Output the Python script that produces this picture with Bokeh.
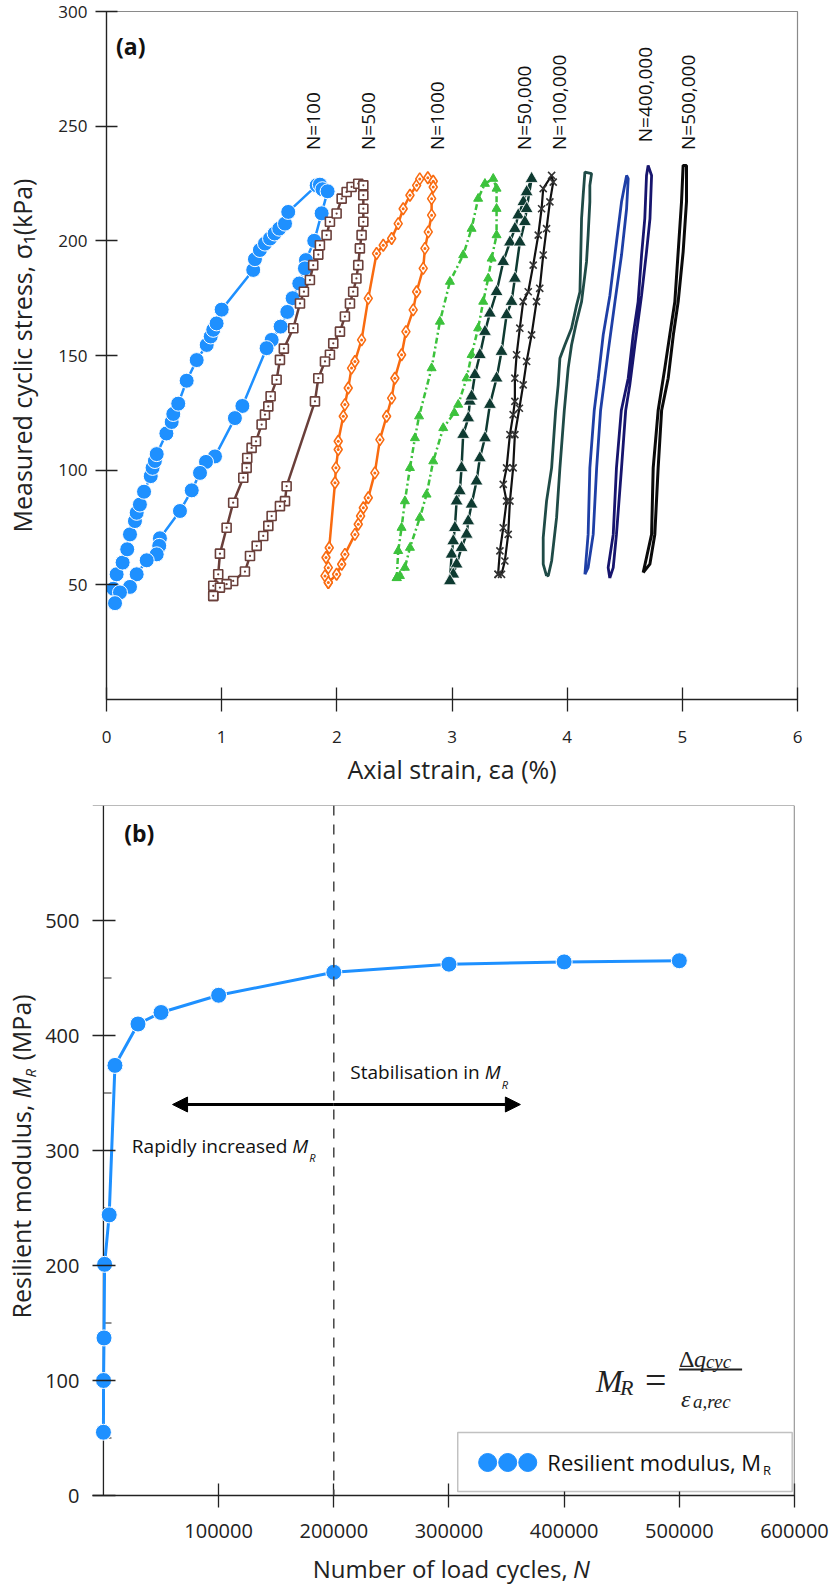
import math
from bokeh.plotting import figure
from bokeh.layouts import column, row
from bokeh.models import (FixedTicker, NumeralTickFormatter, Span, Arrow, NormalHead,
                          Label, BoxAnnotation)
from bokeh.core.properties import value
from bokeh.embed import file_html
from bokeh.resources import INLINE

# ---------------- panel (a): hysteresis loops (axial strain %, stress kPa) ----------------
N100_x = [0.074, 0.06, 0.088, 0.14, 0.18, 0.204, 0.247, 0.262, 0.29, 0.326, 0.384, 0.4, 0.42, 0.436,
          0.52, 0.566, 0.58, 0.623, 0.696, 0.783, 0.87, 0.905, 0.927, 0.956, 1.0, 1.274, 1.289, 1.332,
          1.376, 1.42, 1.46, 1.5, 1.55, 1.578, 1.825, 1.853, 1.875, 1.92,
          1.868, 1.804, 1.732, 1.723, 1.674, 1.616, 1.57, 1.512, 1.434, 1.39, 1.18, 1.115, 0.942,
          0.864, 0.812, 0.74, 0.638, 0.464, 0.458, 0.436, 0.349, 0.262, 0.204, 0.117, 0.074]
N100_y = [42, 48.3, 54.6, 59.7, 65.5, 72, 77.8, 81.4, 85, 90.6, 97.4, 101, 104, 107,
          116, 121, 124.5, 129, 139, 148, 154.6, 158.3, 161.2, 164, 170, 187.3, 192, 196,
          198.8, 201, 203.2, 205.3, 207.5, 212.6, 224.2, 224.5, 222.5, 221.6,
          212, 200, 191.6, 188, 181.4, 175, 169, 162.6, 156.8, 153.2, 128, 122.7, 106,
          103.6, 98.8, 91.2, 82.2, 70.3, 67, 63.3, 60.7, 54.6, 49.1, 46.7, 42]

N500_x = [0.927, 0.927, 0.97, 0.985, 1.043, 1.1, 1.188, 1.217, 1.222, 1.26, 1.298, 1.347, 1.376, 1.405,
          1.425, 1.477, 1.506, 1.54, 1.622, 1.68, 1.714, 1.766, 1.795, 1.839, 1.853, 1.911, 1.94, 1.998,
          2.042, 2.085, 2.128, 2.186, 2.23,
          2.23, 2.23, 2.23, 2.215, 2.2, 2.186, 2.17, 2.142, 2.114, 2.07, 2.027, 1.969, 1.94, 1.897, 1.839,
          1.81, 1.564, 1.55, 1.506, 1.434, 1.405, 1.361, 1.304, 1.246, 1.202, 1.1, 1.043, 0.985, 0.927]
N500_y = [45.2, 49.6, 54.6, 63.6, 74.9, 85.8, 96.7, 101, 105.3, 109.7, 112.6, 119.9, 124.2, 127.8,
          132.2, 139.4, 148.1, 153, 161.9, 172.7, 177.8, 182.9, 189.4, 194, 198.1, 202.5, 208.3, 211.9,
          218.4, 221.3, 223.5, 224.9, 224.2,
          219.9, 214, 208.3, 202.5, 196.7, 189.4, 183.6, 177.8, 172.7, 167, 160.4, 155.3, 150.3, 147.4, 140.1,
          130, 93, 86.5, 84.3, 80, 75.7, 71.3, 67, 62.6, 55.8, 51.7, 50.3, 48.8, 45.2]

N1000_x = [1.926, 1.897, 1.926, 1.906, 1.934, 1.984, 1.992, 2.012, 2.012, 2.056, 2.07, 2.099, 2.128, 2.157,
           2.215, 2.273, 2.345, 2.403, 2.476, 2.533, 2.576, 2.635, 2.693, 2.72, 2.79, 2.837,
           2.837, 2.823, 2.823, 2.794, 2.765, 2.75, 2.693, 2.663, 2.6, 2.562, 2.504, 2.476, 2.432, 2.374,
           2.33, 2.273, 2.23, 2.206, 2.186, 2.157, 2.07, 2.042, 1.998, 1.926]
N1000_y = [51, 53.9, 57.5, 61.9, 66.2, 94.5, 101, 109, 112.6, 123.5, 128.6, 135.8, 144.5, 147.4,
           156.8, 174.9, 194.5, 198.1, 201, 207.5, 214, 219.9, 224.2, 227, 227.5, 226,
           223.5, 218.4, 211.2, 203.9, 196.7, 188, 177.8, 169.9, 160.4, 150.3, 140.1, 131.4, 123.5, 113.3,
           98.8, 88, 83.6, 80, 76.4, 72, 63.3, 59, 54.6, 51]

N5000_x = [2.52, 2.533, 2.562, 2.591, 2.635, 2.678, 2.714, 2.823, 2.895, 2.982, 3.097, 3.17, 3.227,
           3.286, 3.358, 3.387, 3.387, 3.387, 3.344, 3.314, 3.271, 3.227, 3.17, 3.127, 3.054, 3.02,
           2.924, 2.837, 2.779, 2.721, 2.635, 2.591, 2.548, 2.52]
N5000_y = [53, 64.8, 74.9, 86.5, 101, 114, 123.5, 144.5, 164.8, 182.2, 193.8, 205.3, 218.4,
           224.9, 227.1, 222.8, 214, 202.5, 192.3, 183.6, 173.5, 161.9, 150.3, 140.1, 128.6, 125,
           118.4, 103.9, 89.4, 79.3, 66.2, 57.5, 53.9, 53]

N50000_x = [2.982, 2.997, 3.011, 3.025, 3.04, 3.068, 3.083, 3.097, 3.141, 3.155, 3.17, 3.199, 3.242,
            3.286, 3.329, 3.387, 3.445, 3.503, 3.546, 3.575, 3.62, 3.648, 3.691,
            3.648, 3.633, 3.589, 3.546, 3.517, 3.474, 3.43, 3.387, 3.329, 3.286, 3.242, 3.213, 3.17,
            3.141, 3.127, 3.083, 3.04, 3.011, 2.982]
N50000_y = [51.7, 63.3, 69.1, 74.9, 86.5, 90.9, 101, 115.5, 122.7, 130, 132.2, 141.6, 150.3,
            160.4, 168.4, 177.8, 190.9, 199.4, 205.3, 211.2, 217, 221.3, 227.1,
            214, 208.3, 199.4, 183.6, 173.5, 167.7, 151.7, 140.1, 128.6, 114, 105.3, 95.2, 85.1,
            77.8, 72, 66.2, 59, 54.6, 51.7]

N100000_x = [3.4, 3.416, 3.445, 3.474, 3.445, 3.474, 3.503, 3.531, 3.546, 3.546, 3.561, 3.589, 3.618,
             3.662, 3.705, 3.749, 3.778, 3.792, 3.865,
             3.879, 3.85, 3.821, 3.792, 3.762, 3.734, 3.691, 3.648, 3.618, 3.585, 3.546, 3.531, 3.503,
             3.488, 3.459, 3.43, 3.4]
N100000_y = [54.6, 64.8, 74.9, 86.5, 93.8, 101, 115.5, 124.2, 130, 140.1, 150.3, 161.9, 173.5,
             177.8, 189.4, 202.5, 214, 222.8, 228.5,
             225.6, 217, 205.3, 193.8, 179.3, 173.5, 159, 147.4, 137.2, 127, 115.5, 101, 86.5,
             72, 60.4, 54.6, 54.6]

N200000_x = [3.821, 3.792, 3.792, 3.821, 3.865, 3.9, 3.922, 3.937, 3.98, 4.038, 4.082, 4.111, 4.125,
             4.139, 4.154, 4.212, 4.197,
             4.197, 4.182, 4.168, 4.125, 4.082, 4.038, 4.009, 3.975, 3.937, 3.908, 3.865, 3.836, 3.821]
N200000_y = [53.9, 59, 70.6, 86.5, 101, 126, 137.2, 148.8, 154.6, 161.9, 172, 177.8, 209.7,
             219.9, 230, 229.3, 224.2,
             217, 202.5, 190.9, 173.5, 164.8, 154.6, 144.5, 126, 101, 79.3, 60.4, 54, 53.9]

N300000_x = [4.154, 4.182, 4.197, 4.235, 4.27, 4.313, 4.371, 4.428, 4.472, 4.516, 4.53,
             4.516, 4.472, 4.415, 4.356, 4.29, 4.256, 4.226, 4.182, 4.154]
N300000_y = [54.6, 72, 101, 126, 140.1, 159, 176.2, 199.4, 217, 228.5, 227.1,
             214, 193.8, 173.5, 151.7, 126, 101, 72, 57.5, 54.6]

N400000_x = [4.37, 4.356, 4.4, 4.428, 4.47, 4.53, 4.573, 4.616, 4.646, 4.674, 4.689, 4.703, 4.733,
             4.719, 4.689, 4.646, 4.588, 4.544, 4.508, 4.472, 4.428, 4.4, 4.37]
N400000_y = [53, 57.5, 72, 101, 126, 140.1, 159, 173.5, 193.8, 209.7, 228.5, 232.9, 228.5,
             209.7, 195.2, 176.2, 154.6, 137.2, 126, 101, 72, 57.5, 53]

N500000_x = [4.66, 4.689, 4.733, 4.747, 4.79, 4.848, 4.891, 4.935, 4.964, 4.993, 5.007, 5.036,
             5.036, 5.007, 4.964, 4.922, 4.877, 4.82, 4.79, 4.761, 4.718, 4.66]
N500000_y = [55.3, 61.9, 72, 101, 126, 144.5, 159, 173.5, 195.2, 217, 232.9, 232.9,
             217, 195.2, 173.5, 159, 140.1, 126, 101, 72, 59, 55.3]

loop_labels = ["N=100", "N=500", "N=1000", "N=50,000", "N=100,000", "N=400,000", "N=500,000"]
loop_label_x = [1.795, 2.273, 2.872, 3.624, 3.931, 4.675, 5.05]
loop_label_y = [239.6, 239.6, 239.6, 239.6, 239.6, 243.0, 239.6]

strain_ticks = [0, 1, 2, 3, 4, 5, 6]
stress_ticks = [50, 100, 150, 200, 250, 300]

# ---------------- panel (b): resilient modulus vs number of cycles ----------------
N_cycles = [1, 100, 500, 1000, 5000, 10000, 30000, 50000, 100000, 200000, 300000, 400000, 500000]
MR_MPa = [55, 100, 137, 201, 244, 374, 410, 420, 435, 455, 462, 464, 465]

cycle_ticks = [100000, 200000, 300000, 400000, 500000, 600000]
mr_ticks = [0, 100, 200, 300, 400, 500]
mr_minor_ticks = [50, 150, 250, 350, 450]

FONT = "Open Sans"
INK = "#222222"


def style_axis(ax, size, t_in, t_out, standoff):
    ax.axis_line_color = INK
    ax.axis_line_width = 1.3
    ax.major_tick_line_color = INK
    ax.major_tick_line_width = 1.3
    ax.major_tick_in = t_in
    ax.major_tick_out = t_out
    ax.minor_tick_line_color = None
    ax.major_label_text_font = FONT
    ax.major_label_text_font_size = size
    ax.major_label_text_color = INK
    ax.major_label_standoff = standoff
    ax.axis_label_text_font = FONT
    ax.axis_label_text_font_size = "25px"
    ax.axis_label_text_font_style = "normal"
    ax.axis_label_text_color = INK


def blank_fig(w, h, xr, yr):
    f = figure(width=w, height=h, x_range=xr, y_range=yr, x_axis_type=None, y_axis_type=None,
               min_border=0, output_backend="svg", toolbar_location=None)
    f.outline_line_color = None
    f.background_fill_color = "white"
    f.border_fill_color = "white"
    f.xgrid.visible = False
    f.ygrid.visible = False
    return f


# ================= TOP FIGURE =================
p1 = figure(x_range=(0, 6), y_range=(0, 300), frame_width=691, frame_height=688,
            min_border_left=106, min_border_right=35, min_border_top=11, min_border_bottom=91,
            output_backend="svg", toolbar_location=None)
p1.background_fill_color = "white"
p1.border_fill_color = "white"
p1.outline_line_color = "#8a8a8a"
p1.outline_line_width = 1.2
p1.xgrid.visible = False
p1.ygrid.visible = False
p1.xaxis.ticker = FixedTicker(ticks=strain_ticks)
p1.yaxis.ticker = FixedTicker(ticks=stress_ticks)
style_axis(p1.xaxis[0], "17px", 12, 12, 19)
style_axis(p1.yaxis[0], "17px", 11, 11, 8)
p1.xaxis.axis_label = "Axial strain, εa (%)"
p1.yaxis.axis_label = "Measured cyclic stress, σ₁(kPa)"
p1.xaxis.axis_label_standoff = 6
p1.yaxis.axis_label_standoff = 16

BLUE = "#1E90FF"
BROWN = "#6A3F3A"
ORANGE = "#F96B10"
GREEN = "#3CC23C"
DKGREEN = "#0E3A31"
TEAL = "#1F4B47"
MIDBLUE = "#1E3FA6"
NAVY = "#17156E"

p1.line(N100_x, N100_y, line_color=BLUE, line_width=2.5)
p1.scatter(N100_x, N100_y, marker="circle", size=15, fill_color=BLUE, line_color="white", line_width=1)

p1.line(N500_x, N500_y, line_color=BROWN, line_width=2.5)
p1.scatter(N500_x, N500_y, marker="square_dot", size=9, fill_color="white", line_color=BROWN, line_width=1.6)

p1.line(N1000_x, N1000_y, line_color=ORANGE, line_width=2.5)
p1.scatter(N1000_x, N1000_y, marker="diamond_dot", size=12, fill_color="white", line_color=ORANGE, line_width=1.6)

p1.line(N5000_x, N5000_y, line_color=GREEN, line_width=2.5, line_dash="6 3 2 3")
p1.scatter(N5000_x, N5000_y, marker="triangle", size=9, fill_color=GREEN, line_color=GREEN, line_width=1)

p1.line(N50000_x, N50000_y, line_color=DKGREEN, line_width=2.5)
p1.scatter(N50000_x, N50000_y, marker="triangle", size=13, fill_color=DKGREEN, line_color="white", line_width=0.8)

p1.line(N100000_x, N100000_y, line_color="#111111", line_width=2.2)
p1.scatter(N100000_x, N100000_y, marker="x", size=10, line_color="#333333", line_width=1.6)

p1.line(N200000_x, N200000_y, line_color=TEAL, line_width=2.8)
p1.line(N300000_x, N300000_y, line_color=MIDBLUE, line_width=2.8)
p1.line(N400000_x, N400000_y, line_color=NAVY, line_width=2.8)
p1.line(N500000_x, N500000_y, line_color="#0a0a0a", line_width=3)

p1.text(x=loop_label_x, y=loop_label_y, text=loop_labels, angle=math.pi / 2,
        text_align="left", text_baseline="middle", text_font=value(FONT),
        text_font_size="19px", text_color="#111111")

p1.add_layout(Label(x=0.082, y=284.8, text="(a)", text_font=FONT, text_font_size="23px",
                    text_font_style="bold", text_baseline="middle", text_color="#111111"))

# ================= BOTTOM FIGURE =================
P2_BOTTOM = 55
p2 = figure(x_range=(-9500, 600000), y_range=(0, 600), frame_width=702, frame_height=690,
            min_border_left=52, min_border_right=38, min_border_top=15, min_border_bottom=P2_BOTTOM,
            output_backend="svg", toolbar_location=None)
p2.background_fill_color = "white"
p2.border_fill_color = "white"
p2.xgrid.visible = False
p2.ygrid.visible = False
p2.xaxis.ticker = FixedTicker(ticks=cycle_ticks)
p2.xaxis.formatter = NumeralTickFormatter(format="0")
p2.yaxis.ticker = FixedTicker(ticks=mr_ticks)
style_axis(p2.xaxis[0], "20px", 12, 12, 16)
style_axis(p2.yaxis[0], "20px", 23, 0, 13)
p2.yaxis.axis_line_color = None
p2.outline_line_color = None

# frame box (top / right) and y axis line at N = 0
p2.add_layout(Span(location=600, dimension="width", line_color="#777777", line_width=1.2))
p2.add_layout(Span(location=600000, dimension="height", line_color="#444444", line_width=1.3))
p2.add_layout(Span(location=0, dimension="height", line_color=INK, line_width=1.3, level="underlay"))
p2.segment(x0=[0] * len(mr_minor_ticks), y0=mr_minor_ticks, x1=[7000] * len(mr_minor_ticks),
           y1=mr_minor_ticks, line_color=INK, line_width=1.2, level="underlay")

p2.add_layout(Span(location=200000, dimension="height", line_color="#444444",
                   line_width=1.5, line_dash="10 9"))

p2.line(N_cycles, MR_MPa, line_color=BLUE, line_width=3)
p2.scatter(N_cycles, MR_MPa, marker="circle", size=16, fill_color=BLUE, line_color="white", line_width=1)

# arrows
ARROW_Y = 340
p2.add_layout(Arrow(end=NormalHead(size=15, fill_color="black", line_color="black"),
                    x_start=200000, y_start=ARROW_Y, x_end=60000, y_end=ARROW_Y,
                    line_width=3, line_color="black"))
p2.add_layout(Arrow(end=NormalHead(size=15, fill_color="black", line_color="black"),
                    x_start=200000, y_start=ARROW_Y, x_end=362000, y_end=ARROW_Y,
                    line_width=3, line_color="black"))


def sub_label(fig, x, y, lead, font_size="19px", sub_size="11px"):
    fig.add_layout(Label(x=x, y=y, x_offset=-5, text=lead, text_align="right",
                         text_baseline="middle", text_font=FONT, text_font_size=font_size,
                         text_color="#111111"))
    fig.add_layout(Label(x=x, y=y, text="M", text_align="left", text_baseline="middle",
                         text_font=FONT, text_font_size=font_size, text_font_style="italic",
                         text_color="#111111"))
    fig.add_layout(Label(x=x, y=y, x_offset=17, y_offset=-12, text="R", text_align="left",
                         text_baseline="middle", text_font=FONT, text_font_size=sub_size,
                         text_font_style="italic", text_color="#111111"))


sub_label(p2, 331000, 368, "Stabilisation in")
sub_label(p2, 164000, 304, "Rapidly increased")

p2.add_layout(Label(x=18000, y=575.7, text="(b)", text_font=FONT, text_font_size="23px",
                    text_font_style="bold", text_baseline="middle", text_color="#111111"))

# formula  M_R = Δq_cyc / ε_a,rec
SERIF = "Liberation Serif"
FX, FY = 427600, 100


def ftext(txt, dx, dy, size, style="italic"):
    p2.add_layout(Label(x=FX, y=FY, x_offset=dx, y_offset=dy, text=txt, text_align="left",
                        text_baseline="alphabetic", text_font=SERIF, text_font_size=size,
                        text_font_style=style, text_color="#222222"))


ftext("M", 0, 0, "32px")
ftext("R", 24, -7, "22px")
ftext("=", 49, 1, "38px", "normal")
ftext("Δ", 83, 22, "24px", "normal")
ftext("q", 98, 22, "24px")
ftext("cyc", 110, 19, "19px")
ftext("ε", 85, -18, "24px")
ftext("a,rec", 97, -21, "19px")
p2.segment(x0=[499700], y0=[109.6], x1=[554500], y1=[109.6], line_color="#222222", line_width=2)

# legend
p2.add_layout(BoxAnnotation(left=307600, right=598000, top=54.8, bottom=3.5,
                            fill_color="white", fill_alpha=1.0,
                            line_color="#333333", line_width=1.5, level="annotation"))
p2.scatter([333600, 351000, 368400], [28.7, 28.7, 28.7], marker="circle", size=18,
           fill_color=BLUE, line_color=BLUE, level="overlay")
p2.add_layout(Label(x=571000, y=28.7, text="Resilient modulus, M", text_align="right",
                    text_baseline="middle", text_font=FONT, text_font_size="22px",
                    text_color="#111111", level="overlay"))
p2.add_layout(Label(x=571000, y=28.7, x_offset=2, y_offset=-8, text="R", text_align="left",
                    text_baseline="middle", text_font=FONT, text_font_size="13px",
                    text_color="#111111", level="overlay"))

# ---- axis titles of panel (b), drawn in companion figures (italic / subscript parts) ----
XLAB_H = 40
P2_H = 15 + 690 + P2_BOTTOM
STRIP_H = P2_H + XLAB_H
ylab = blank_fig(40, STRIP_H, (0, 40), (0, STRIP_H))
A = math.pi / 2
Y0 = STRIP_H - 308   # reading position of "M" measured up from strip bottom
ylab.text(x=[20], y=[Y0 - 6], text=["Resilient modulus,"], angle=A, text_align="right",
          text_baseline="middle", text_font=value(FONT), text_font_size="25px", text_color=INK)
ylab.text(x=[20], y=[Y0], text=["M"], angle=A, text_align="left", text_baseline="middle",
          text_font=value(FONT), text_font_size="25px", text_font_style="italic", text_color=INK)
ylab.text(x=[29], y=[Y0 + 21], text=["R"], angle=A, text_align="left", text_baseline="middle",
          text_font=value(FONT), text_font_size="15px", text_font_style="italic", text_color=INK)
ylab.text(x=[20], y=[Y0 + 38], text=["(MPa)"], angle=A, text_align="left", text_baseline="middle",
          text_font=value(FONT), text_font_size="25px", text_color=INK)

xlab = blank_fig(792, XLAB_H, (0, 792), (0, XLAB_H))
xlab.text(x=[536], y=[XLAB_H - 18], text=["Number of load cycles,"], text_align="right",
          text_baseline="middle", text_font=value(FONT), text_font_size="24px", text_color=INK)
xlab.text(x=[542], y=[XLAB_H - 18], text=["N"], text_align="left", text_baseline="middle",
          text_font=value(FONT), text_font_size="24px", text_font_style="italic", text_color=INK)

layout = column(p1, row(ylab, column(p2, xlab, spacing=0), spacing=0), spacing=0)
open("out.html", "w").write(file_html(layout, INLINE, "chart"))
